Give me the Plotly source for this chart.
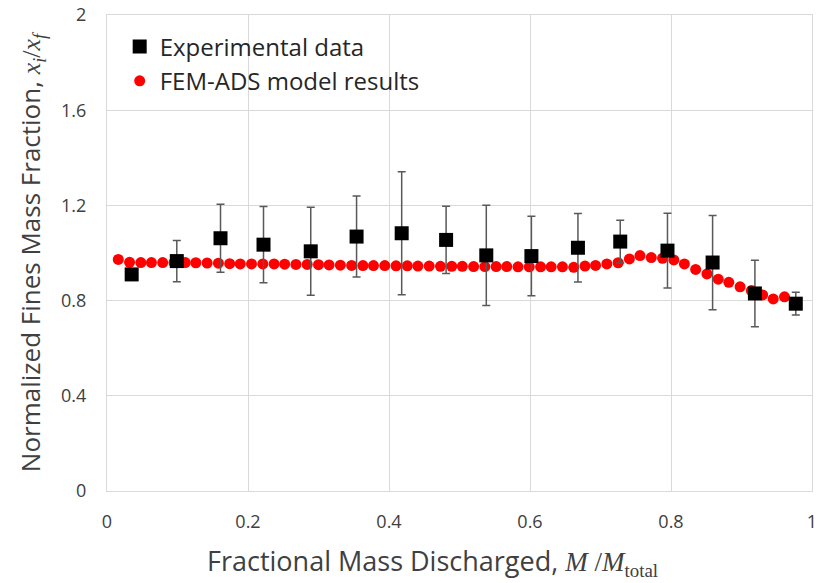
import plotly.graph_objects as go

# Experimental data (black squares with error bars)
exp_x = [0.035, 0.099, 0.161, 0.222, 0.289, 0.354, 0.418, 0.481, 0.538, 0.602,
         0.668, 0.728, 0.795, 0.859, 0.919, 0.977]
exp_y = [0.910, 0.966, 1.062, 1.035, 1.007, 1.069, 1.083, 1.055, 0.990, 0.987,
         1.022, 1.048, 1.010, 0.960, 0.830, 0.787]
exp_err = [0.015, 0.087, 0.143, 0.160, 0.185, 0.170, 0.258, 0.141, 0.211, 0.167,
           0.144, 0.090, 0.157, 0.198, 0.140, 0.048]

# FEM-ADS model results (red dots)
model_x = [0.016, 0.032, 0.048, 0.063, 0.079, 0.095, 0.111, 0.126, 0.142, 0.158,
           0.174, 0.189, 0.205, 0.221, 0.237, 0.252, 0.268, 0.284, 0.300, 0.315,
           0.331, 0.347, 0.363, 0.378, 0.394, 0.410, 0.426, 0.441, 0.457, 0.473,
           0.489, 0.504, 0.520, 0.536, 0.552, 0.567, 0.583, 0.599, 0.615, 0.630,
           0.646, 0.662, 0.678, 0.693, 0.709, 0.725, 0.741, 0.756, 0.772, 0.788,
           0.804, 0.819, 0.835, 0.851, 0.867, 0.882, 0.898, 0.914, 0.930, 0.945,
           0.961]
model_y = [0.973, 0.961, 0.960, 0.960, 0.960, 0.960, 0.960, 0.959, 0.958, 0.957,
           0.955, 0.954, 0.954, 0.954, 0.954, 0.953, 0.952, 0.952, 0.951, 0.950,
           0.949, 0.948, 0.947, 0.947, 0.947, 0.946, 0.946, 0.945, 0.945, 0.944,
           0.944, 0.944, 0.943, 0.943, 0.943, 0.943, 0.942, 0.942, 0.942, 0.942,
           0.942, 0.940, 0.945, 0.948, 0.954, 0.959, 0.975, 0.989, 0.981, 0.978,
           0.971, 0.954, 0.931, 0.912, 0.890, 0.877, 0.858, 0.842, 0.824, 0.807,
           0.816]

x_ticks = [0, 0.2, 0.4, 0.6, 0.8, 1]
x_tick_text = ["0", "0.2", "0.4", "0.6", "0.8", "1"]
y_ticks = [0, 0.4, 0.8, 1.2, 1.6, 2]
y_tick_text = ["0", "0.4", "0.8", "1.2", "1.6", "2"]

FONT = "'Open Sans', 'Noto Sans', sans-serif"
MATH = "'Liberation Serif', 'DejaVu Serif', serif"
TXT = "#404040"
GRID = "#D9D9D9"

fig = go.Figure()

fig.add_trace(go.Scatter(
    x=model_x, y=model_y, mode="markers", name="FEM-ADS model results",
    marker=dict(symbol="circle", size=11, color="#FF0000"),
))

fig.add_trace(go.Scatter(
    x=exp_x, y=exp_y, mode="markers", name="Experimental data",
    marker=dict(symbol="square", size=14, color="#000000"),
    error_y=dict(type="data", array=exp_err, visible=True,
                 color="#595959", thickness=1.5, width=4),
))

fig.update_layout(
    width=817, height=583,
    paper_bgcolor="white", plot_bgcolor="white",
    margin=dict(l=107, r=5, t=15, b=92, autoexpand=False),
    font=dict(family=FONT, color=TXT, size=18),
    legend=dict(
        x=0.018, y=0.98, xanchor="left", yanchor="top",
        bgcolor="rgba(255,255,255,0)", traceorder="reversed",
        font=dict(size=24, color="#262626", family=FONT),
        itemsizing="trace",
    ),
    showlegend=True,
    annotations=[dict(
        text=("Fractional Mass Discharged, "
              f"<span style=\"font-family:{MATH}\"><i>M</i> /<i>M</i></span>"
              f"<sub><span style=\"font-family:{MATH}\">total</span></sub>"),
        xref="paper", yref="paper", x=0.461, y=-0.149,
        xanchor="center", yanchor="middle", showarrow=False,
        font=dict(size=27, color=TXT, family=FONT),
    )],
)

fig.update_xaxes(
    range=[0, 1], tickmode="array", tickvals=x_ticks, ticktext=x_tick_text,
    showgrid=True, gridcolor=GRID, gridwidth=1,
    showline=True, linecolor=GRID, linewidth=1, mirror=True,
    zeroline=False, ticks="", ticklabelstandoff=14, ticklabeloverflow="allow",
    automargin=False,
    tickfont=dict(size=18, color=TXT, family=FONT),
)

fig.update_yaxes(
    range=[0, 2], tickmode="array", tickvals=y_ticks, ticktext=y_tick_text,
    showgrid=True, gridcolor=GRID, gridwidth=1,
    showline=True, linecolor=GRID, linewidth=1, mirror=True,
    zeroline=False, ticks="", ticklabelstandoff=16, ticklabeloverflow="allow",
    automargin=False,
    tickfont=dict(size=18, color=TXT, family=FONT),
    title=dict(
        text=("Normalized Fines Mass Fraction, "
              f"<span style=\"font-family:{MATH}\"><i>x</i><sub><i>i</i></sub>/<i>x</i><sub><i>f</i></sub></span>"),
        font=dict(size=26, color=TXT, family=FONT), standoff=12,
    ),
)

# Remove the default 8px page margin so the 817x583 figure fits the window exactly.
fig.write_html("out.html",
               config={"displayModeBar": False},
               post_script="document.body.style.margin='0';document.body.style.overflow='hidden';")
